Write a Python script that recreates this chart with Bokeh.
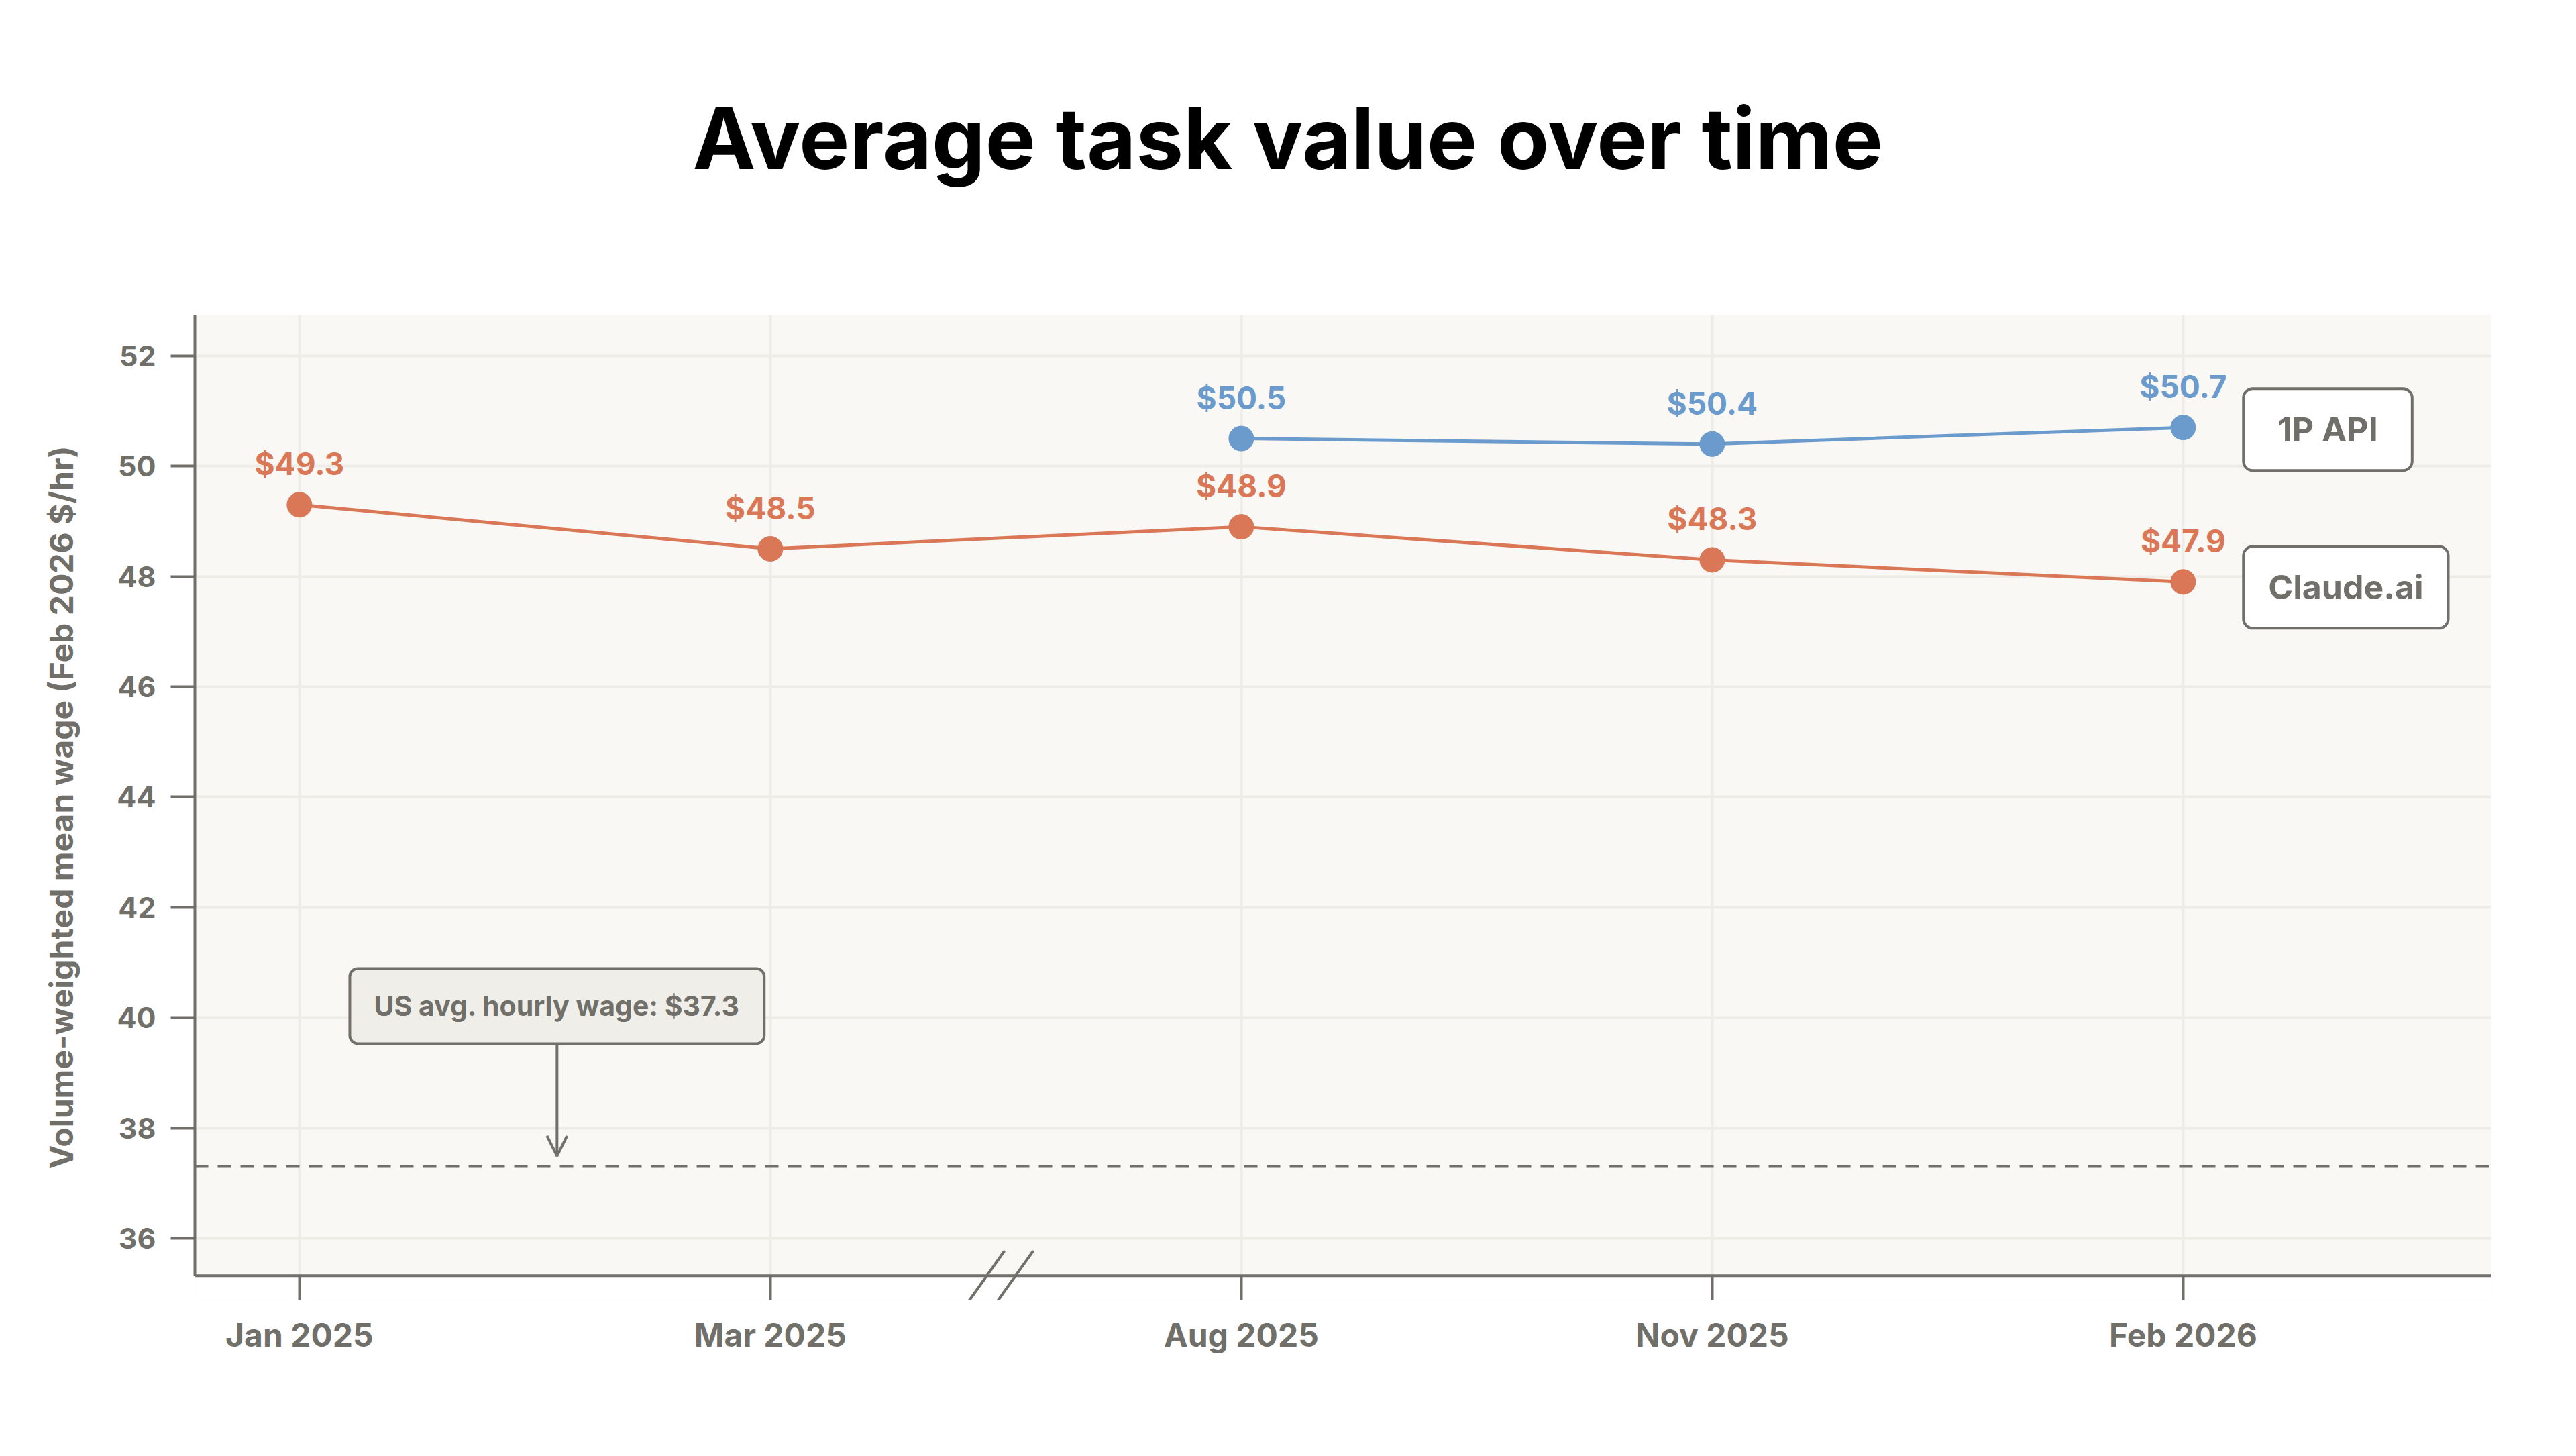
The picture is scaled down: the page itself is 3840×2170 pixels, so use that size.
from bokeh.plotting import figure
from bokeh.models import (ColumnDataSource, FixedTicker, Span, Label, Arrow,
                          OpenHead, Range1d, BoxAnnotation, Title)
from bokeh.embed import file_html
from bokeh.resources import INLINE
from bokeh.core.properties import value

# ---------------- data ----------------
months = ["Jan 2025", "Mar 2025", "Aug 2025", "Nov 2025", "Feb 2026"]
claude_ai = [49.3, 48.5, 48.9, 48.3, 47.9]
api_months = ["Aug 2025", "Nov 2025", "Feb 2026"]
api_1p = [50.5, 50.4, 50.7]
us_avg_wage = 37.3
y_ticks = [36, 38, 40, 42, 44, 46, 48, 50, 52]
title_text = "Average task value over time"
y_label = "Volume-weighted mean wage (Feb 2026 $/hr)"
wage_note = "US avg. hourly wage: $37.3"

# ---------------- style ----------------
FONT = "Inter"
ORANGE = "#D97757"
BLUE = "#6A9BCC"
GRAY = "#706F69"
GRID = "#EEECE6"
PLOT_BG = "#F9F8F5"

W, H = 3824, 2154
Y_AXIS = 35.32      # where the x axis line sits
Y_TOP = 52.74
Y_BOT = 34.88       # frame extends a little below the axis (tick / break marks)

p = figure(width=W, height=H, output_backend="svg", toolbar_location=None,
           x_range=Range1d(-0.222, 4.654), y_range=Range1d(Y_BOT, Y_TOP),
           min_border_left=290, min_border_right=111,
           min_border_top=469, min_border_bottom=217)
p.title_location = None
p.background_fill_color = PLOT_BG
p.border_fill_color = "white"
p.outline_line_color = None

# spacer between title and plot frame, then the title itself
p.add_layout(Title(text=" ", text_font_size="10px", standoff=175), "above")
p.add_layout(Title(text=title_text, align="left", offset=742,
                   vertical_align="bottom", standoff=0, text_font=FONT,
                   text_font_size="126px", text_font_style="bold",
                   text_color="black"), "above")

# axes
xi = list(range(len(months)))
p.xaxis.ticker = FixedTicker(ticks=xi)
p.xaxis.major_label_overrides = {i: m for i, m in zip(xi, months)}
p.yaxis.ticker = FixedTicker(ticks=y_ticks)
for ax in (p.xaxis, p.yaxis):
    ax.axis_line_color = GRAY
    ax.axis_line_width = 4
    ax.major_tick_line_color = GRAY
    ax.major_tick_line_width = 4
    ax.minor_tick_line_color = None
    ax.major_label_text_color = GRAY
    ax.major_label_text_font = FONT
    ax.major_label_text_font_style = "bold"
p.xaxis.axis_line_color = None
p.xaxis.major_tick_in = 36
p.xaxis.major_tick_out = 0
p.yaxis.major_tick_in = 0
p.yaxis.major_tick_out = 36
p.yaxis.bounds = (Y_AXIS, Y_TOP)
p.xaxis.major_label_text_font_size = "48px"
p.yaxis.major_label_text_font_size = "43px"
p.xaxis.major_label_standoff = 22
p.yaxis.major_label_standoff = 22
p.yaxis.axis_label = y_label
p.yaxis.axis_label_text_font = FONT
p.yaxis.axis_label_text_font_size = "48px"
p.yaxis.axis_label_text_font_style = "bold"
p.yaxis.axis_label_text_color = GRAY
p.yaxis.axis_label_standoff = 50

p.grid.grid_line_color = GRID
p.grid.grid_line_width = 4

# white strip below the x axis line
p.add_layout(BoxAnnotation(top=Y_AXIS, fill_color="white", fill_alpha=1.0,
                           line_color=None, level="underlay"))
# x axis line
p.add_layout(Span(location=Y_AXIS, dimension="width", line_color=GRAY,
                  line_width=4))

# US average wage line
p.add_layout(Span(location=us_avg_wage, dimension="width", line_color=GRAY,
                  line_width=4, line_dash="20 14"))

# series
x_api = [months.index(m) for m in api_months]
src_c = ColumnDataSource(dict(x=xi, y=claude_ai,
                              lab=[f"${v:.1f}" for v in claude_ai]))
src_a = ColumnDataSource(dict(x=x_api, y=api_1p,
                              lab=[f"${v:.1f}" for v in api_1p]))
for src, col in ((src_c, ORANGE), (src_a, BLUE)):
    p.line("x", "y", source=src, line_color=col, line_width=5)
    p.scatter("x", "y", source=src, size=37, fill_color=col, line_color=col)
    p.text("x", "y", text="lab", source=src, text_color=col,
           text_font=value(FONT), text_font_style="bold",
           text_font_size="46px", text_align="center",
           text_baseline="alphabetic", y_offset=-61)

# series end labels  (padding = (horizontal, vertical))
for name, yv, dy, padx in (("1P API", api_1p[-1], 3, 51),
                           ("Claude.ai", claude_ai[-1], 8, 37)):
    p.add_layout(Label(x=len(months) - 1 + 0.128, y=yv, y_offset=-dy,
                       text=name, text_align="left", text_baseline="middle",
                       text_font=FONT, text_font_size="50px",
                       text_font_style="bold", text_color=GRAY,
                       background_fill_color="white",
                       border_line_color=GRAY, border_line_width=4,
                       border_radius=14, padding=(padx, 31)))

# wage annotation box + arrow
note_x = 0.547
note_y = us_avg_wage + 2.91
p.add_layout(Label(x=note_x, y=note_y, text=wage_note, text_align="center",
                   text_baseline="middle", text_font=FONT,
                   text_font_size="41px", text_font_style="bold",
                   text_color=GRAY, background_fill_color="#F0EEE9",
                   border_line_color=GRAY, border_line_width=4,
                   border_radius=12, padding=(36, 31)))
p.add_layout(Arrow(x_start=note_x, y_start=note_y - 0.67,
                   x_end=note_x, y_end=us_avg_wage + 0.19,
                   line_color=GRAY, line_width=4,
                   end=OpenHead(size=30, line_color=GRAY, line_width=4)))

# axis break marks between Mar 2025 and Aug 2025
brk = 1.5
for dx in (-0.04, 0.021):
    p.add_layout(Arrow(x_start=brk + dx + 0.036, y_start=35.756,
                       x_end=brk + dx - 0.037, y_end=Y_BOT,
                       line_color=GRAY, line_width=4, line_cap="round",
                       end=None))

open("out.html", "w").write(file_html(p, INLINE))
